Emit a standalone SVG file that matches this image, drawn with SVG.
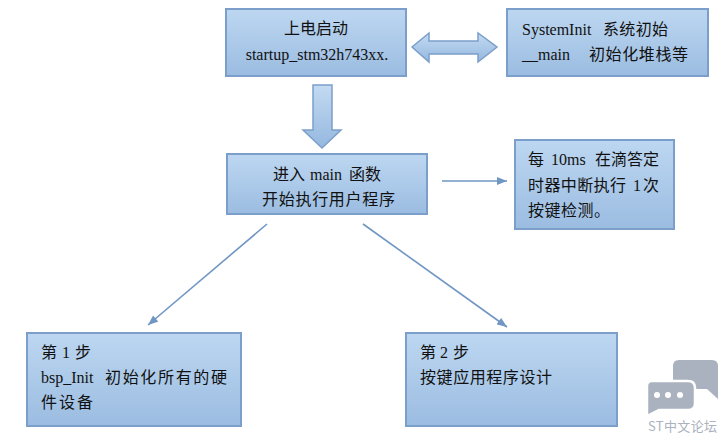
<svg xmlns="http://www.w3.org/2000/svg" width="726" height="444" viewBox="0 0 726 444">
<defs>
<linearGradient id="boxGrad" x1="0" y1="0" x2="0" y2="1">
<stop offset="0" stop-color="#bdd7f1"/>
<stop offset="1" stop-color="#9bbce1"/>
</linearGradient>
<linearGradient id="arrGradV" x1="0" y1="0" x2="0" y2="1">
<stop offset="0" stop-color="#c3daf2"/>
<stop offset="1" stop-color="#95b8df"/>
</linearGradient>
<marker id="head" viewBox="0 0 10 8" refX="10" refY="4" markerWidth="11" markerHeight="8" markerUnits="userSpaceOnUse" orient="auto">
<path d="M0,0 L10,4 L0,8 Z" fill="#7096c4"/>
</marker>
</defs>
<style>
.box{fill:url(#boxGrad);stroke:#7b9fca;stroke-width:2}
.blk{fill:url(#arrGradV);stroke:#7b9fca;stroke-width:1.5;stroke-linejoin:miter}
.t{font-family:"Liberation Serif","Noto Sans CJK SC",serif;font-size:16px;fill:#111}
.c{font-family:"Noto Sans CJK SC","Liberation Serif",sans-serif;font-size:16px;fill:#111}
.conn{stroke:#7096c4;stroke-width:1.6;fill:none}
.wm{fill:#a9b2be}
</style>
<rect width="726" height="444" fill="#ffffff"/>

<g id="connectors">
<path class="blk" d="M412,47 L429,33 L429,41 L478,41 L478,33 L497,47 L478,62 L478,54 L429,54 L429,62 Z"/>
<path class="blk" d="M313,85 L332,85 L332,130 L341,130 L322,148 L303,130 L313,130 Z"/>
<line class="conn" x1="442" y1="181" x2="507" y2="181" marker-end="url(#head)"/>
<line class="conn" x1="267" y1="224" x2="148" y2="325" marker-end="url(#head)"/>
<line class="conn" x1="363" y1="224" x2="507" y2="327" marker-end="url(#head)"/>
</g>

<g id="node-startup">
<rect class="box" x="226" y="9" width="180" height="67"/>
<text class="c" x="316" y="34" text-anchor="middle">上电启动</text>
<text class="t" x="317" y="60" text-anchor="middle">startup_stm32h743xx.</text>
</g>

<g id="node-systeminit">
<rect class="box" x="507" y="9" width="201" height="67"/>
<text class="t" x="522" y="35">SystemInit</text>
<text class="c" x="603" y="35" textLength="65" lengthAdjust="spacing">系统初始</text>
<text class="t" x="522" y="60">__main</text>
<text class="c" x="589" y="60" textLength="99" lengthAdjust="spacing">初始化堆栈等</text>
</g>

<g id="node-main">
<rect class="box" x="227" y="154" width="200" height="60"/>
<text class="c" x="273" y="180">进入</text>
<text class="t" x="310" y="180">main</text>
<text class="c" x="349" y="180">函数</text>
<text class="c" x="262" y="205" textLength="133" lengthAdjust="spacing">开始执行用户程序</text>
</g>

<g id="node-timer">
<rect class="box" x="515" y="140" width="159" height="89"/>
<text class="c" x="528" y="165">每</text>
<text class="t" x="551" y="165">10ms</text>
<text class="c" x="595" y="165" textLength="64" lengthAdjust="spacing">在滴答定</text>
<text class="c" x="528" y="191" textLength="98" lengthAdjust="spacing">时器中断执行</text>
<text class="t" x="633" y="191">1</text>
<text class="c" x="643" y="191">次</text>
<text class="c" x="528" y="216" textLength="82" lengthAdjust="spacing">按键检测。</text>
</g>

<g id="node-step1">
<rect class="box" x="27" y="333" width="214" height="93"/>
<text class="c" x="41" y="358">第</text>
<text class="t" x="62" y="358">1</text>
<text class="c" x="75" y="358">步</text>
<text class="t" x="41" y="383">bsp_Init</text>
<text class="c" x="105" y="383" textLength="122" lengthAdjust="spacing">初始化所有的硬</text>
<text class="c" x="41" y="408" textLength="52" lengthAdjust="spacing">件设备</text>
</g>

<g id="node-step2">
<rect class="box" x="406" y="333" width="211" height="93"/>
<text class="c" x="420" y="358">第</text>
<text class="t" x="440" y="358">2</text>
<text class="c" x="453" y="358">步</text>
<text class="c" x="420" y="383" textLength="132" lengthAdjust="spacing">按键应用程序设计</text>
</g>

<g id="watermark">
<path class="wm" d="M679,360 L712,360 Q718,360 718,366 L718,399 L707,389 L679,389 Q673,389 673,383 L673,366 Q673,360 679,360 Z"/>
<path d="M652,381 L688,381 Q695,381 695,388 L695,403 Q695,410 688,410 L659,410 L647,416 L647,386 Q647,381 652,381 Z" fill="#a9b2be" stroke="#ffffff" stroke-width="2.5"/>
<circle cx="657" cy="395" r="3" fill="#ffffff"/>
<circle cx="668" cy="395" r="3" fill="#ffffff"/>
<circle cx="680" cy="395" r="3" fill="#ffffff"/>
<text x="648" y="431" font-family="'Noto Sans CJK SC','Noto Sans',sans-serif" font-size="13" fill="#a9b2be" textLength="69" lengthAdjust="spacing">ST中文论坛</text>
</g>
</svg>
